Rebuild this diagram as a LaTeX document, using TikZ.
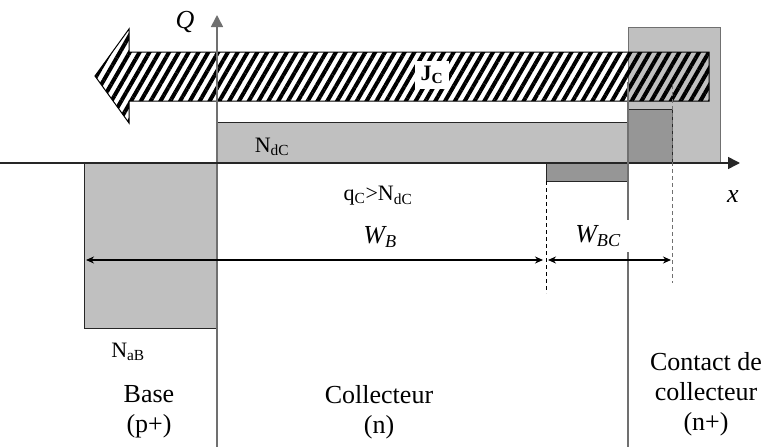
\documentclass[tikz,border=0pt]{standalone}
\usepackage{fontspec}
\setmainfont{Liberation Serif}
\usetikzlibrary{arrows.meta, patterns.meta, positioning}
\definecolor{dopLight}{HTML}{C0C0C0}
\definecolor{dopDark}{HTML}{969696}
\definecolor{axGray}{HTML}{707070}

\begin{document}
\begin{tikzpicture}[x=1pt, y=-1pt,
  every node/.style={inner sep=0pt},
  region/.style={font=\fontsize{26}{30}\selectfont, align=center},
  dop/.style={font=\fontsize{22}{26}\selectfont},
  sym/.style={font=\fontsize{26}{30}\selectfont\itshape},
  profile/.style={draw=black!85, line width=1pt},
  axisline/.style={line width=1.6pt, -{Triangle[length=12pt,width=12pt]}},
  dimline/.style={line width=1.5pt, {Stealth[length=8pt,width=7pt]}-{Stealth[length=8pt,width=7pt]}},
  guide/.style={line width=1pt, dash pattern=on 4pt off 3pt},
]
\useasboundingbox (0,0) rectangle (769,447);

% doping profiles
\filldraw[profile, fill=dopLight, draw=axGray] (628,27) rectangle (720,163);
\filldraw[profile, fill=dopLight] (217,122) rectangle (628,163);
\filldraw[profile, fill=dopDark] (628,109) rectangle (672,163);
\filldraw[profile, fill=dopDark] (546,163) rectangle (628,181);
\filldraw[profile, fill=dopLight] (84,163) rectangle (217,328);

% collector current
\draw[line width=1pt, pattern={Lines[angle=60, distance=8.5pt, line width=4pt]}]
  (95,76) -- (129,29) -- (129,52) -- (709,52) -- (709,101) -- (129,101) -- (129,123) -- cycle;
\node[fill=white, inner xsep=6pt, inner ysep=5pt, font=\fontsize{22}{26}\selectfont\bfseries] (jc) at (432,75) {J\textsubscript{C}};

% axes
\coordinate (qbot) at (217,447);
\coordinate (qtop) at (217,15);
\coordinate (xleft) at (0,163);
\coordinate (xright) at (740,163);
\draw[axisline, draw=axGray] (qbot) -- (qtop);
\draw[axisline, draw=black!85] (xleft) -- (xright);
\node[sym] (qlab) at (185,22) {Q};
\node[sym] (xlab) at (733,197) {x};

% region limits
\coordinate (ctop) at (628,82);
\coordinate (cbot) at (628,447);
\draw[line width=1.2pt, axGray] (ctop) -- (cbot);
\coordinate (bcTop) at (546,181);
\coordinate (bcBot) at (546,293);
\coordinate (wcTop) at (672,85);
\coordinate (wcBot) at (672,283);
\draw[guide, black] (bcTop) -- (bcBot);
\draw[guide, axGray] (wcTop) -- (wcBot);

% widths
\coordinate (wbL) at (86,260);
\coordinate (wbR) at (543,260);
\coordinate (wbcL) at (548,260);
\coordinate (wbcR) at (671,260);
\draw[dimline] (wbL) -- (wbR);
\draw[dimline] (wbcL) -- (wbcR);
\node[sym] (wb) at (380,237) {W\textsubscript{B}};
\node[sym, fill=white, inner xsep=9pt, inner ysep=6pt] (wbc) at (598,236) {W\textsubscript{BC}};

% labels
\node[dop] (ndc) at (272,147) {N\textsubscript{dC}};
\node[dop] (qc) at (378,196) {q\textsubscript{C}>N\textsubscript{dC}};
\node[dop] (nab) at (128,352) {N\textsubscript{aB}};
\node[region] (base) at (149,412) {Base\\(p+)};
\node[region] (coll) at (379,412) {Collecteur\\(n)};
\node[region] (cont) at (706,394) {Contact de\\collecteur\\(n+)};
\end{tikzpicture}
\end{document}
